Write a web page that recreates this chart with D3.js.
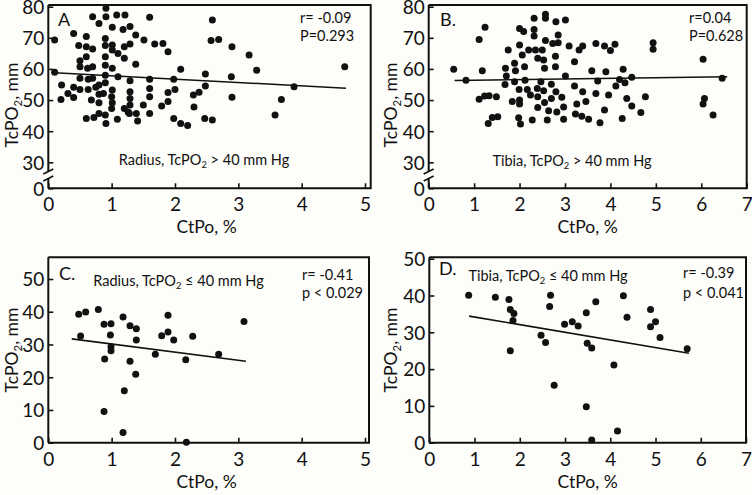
<!DOCTYPE html>
<html>
<head>
<meta charset="utf-8">
<script src="https://cdn.jsdelivr.net/npm/d3@7"></script>
<style>
  html, body { margin: 0; padding: 0; background: #fdfdf9; }
  svg { display: block; font-family: Lato, "Open Sans", sans-serif; }
</style>
</head>
<body>
<svg id="chart" width="752" height="495"></svg>
<script>
// ---------------- DATA ----------------
// Panel A: Radius, TcPO2 > 40 mm Hg  [CtPo %, TcPO2 mm]
const radiusHigh = [
  [0.1,69.3],[0.1,58.9],[0.21,54.8],[0.2,50.2],[0.31,52.1],[0.4,71.4],[0.4,54.1],[0.4,50.8],
  [0.48,67.5],[0.5,62.6],[0.5,60.7],[0.5,57],[0.5,53.4],[0.6,70.4],[0.6,67.1],[0.6,63.9],
  [0.62,60.2],[0.63,56.7],[0.63,53.4],[0.6,44.1],[0.7,76.8],[0.7,66.4],[0.7,60.7],[0.7,57],
  [0.68,50],[0.72,44.4],[0.75,54.1],[0.8,74.6],[0.8,54.8],[0.8,51.9],[0.8,49.1],[0.8,45.7],
  [0.87,52.1],[0.91,79.5],[0.91,76.8],[0.9,69.8],[0.9,67.5],[0.9,63.9],[0.9,61.2],[0.9,58],
  [0.9,55.6],[0.9,45.2],[0.91,42.5],[1.01,73.4],[1.01,67.7],[1.01,66.1],[1.01,60.2],[1.01,53.2],
  [1.0,51.1],[1.01,49.1],[1.0,47.3],[1.08,77.3],[1.1,65],[1.1,57.5],[1.09,43.8],[1.18,72.7],
  [1.2,67.1],[1.2,63.4],[1.2,47.3],[1.21,77.3],[1.26,46.2],[1.29,73.6],[1.29,68],[1.29,56.2],
  [1.29,52.7],[1.29,50.5],[1.29,48.4],[1.28,45.7],[1.38,70.9],[1.38,61.5],[1.39,45.7],[1.41,43.3],
  [1.5,48.4],[1.51,69.3],[1.6,76.6],[1.6,56.7],[1.6,53.7],[1.6,51.1],[1.6,45.7],[1.68,68],
  [1.81,68.2],[1.79,48.1],[1.89,65.5],[1.89,52.4],[1.89,49.5],[1.98,56.7],[1.98,44.1],[2.0,53.4],
  [2.09,59.9],[2.09,42.5],[2.2,41.8],[2.29,51.6],[2.3,47.8],[2.38,52.5],[2.47,44.1],[2.48,58.4],
  [2.48,54.5],[2.59,75.7],[2.57,69.1],[2.59,43.6],[2.69,69.5],[2.89,57.5],[2.9,67.1],[2.9,50.9],
  [3.17,64.5],[3.29,59.6],[3.58,45.2],[3.68,50.2],[3.88,54.3],[4.68,60.7]
];
// Panel B: Tibia, TcPO2 > 40 mm Hg
const tibiaHigh = [
  [0.55,59.9],[0.82,56.4],[1.11,69.5],[1.24,73.4],[1.18,59.4],[1.11,50.3],[1.23,51.3],[1.33,51.4],
  [1.49,51.1],[1.31,42.5],[1.4,44.4],[1.52,44.6],[1.75,66.1],[1.69,60.2],[1.71,57.7],[1.68,55],
  [1.89,61.8],[1.91,59.4],[1.89,55.9],[1.84,49.5],[2.0,73],[2.0,67.7],[1.99,53.4],[2.0,50],
  [2.0,48.7],[1.98,44.3],[2.02,42.3],[2.09,72],[2.06,64.5],[2.11,60.7],[2.12,56.4],[2.17,53.4],
  [2.2,66.1],[2.24,51.6],[2.28,43.6],[2.32,76.3],[2.32,72.7],[2.32,70.6],[2.35,66.1],[2.4,63.4],
  [2.39,53.7],[2.4,51.1],[2.4,47.6],[2.47,55.9],[2.5,66.1],[2.53,62.9],[2.53,53],[2.55,49.2],
  [2.57,77.6],[2.57,76.3],[2.57,69.1],[2.55,60.2],[2.61,43.6],[2.64,46.6],[2.7,50.5],[2.7,55.1],
  [2.73,68.2],[2.79,64.1],[2.79,60.7],[2.8,52.7],[2.82,46.2],[2.8,75.2],[2.85,70.9],[2.85,68.4],
  [2.93,50.9],[2.97,47.8],[2.97,43.8],[3.01,75.7],[3.01,57.7],[3.09,67.4],[3.21,62.3],[3.21,54.5],
  [3.23,45.5],[3.26,48.7],[3.31,66.1],[3.37,44.8],[3.39,67.4],[3.39,52.7],[3.46,49.5],[3.52,43.8],
  [3.59,59.4],[3.68,68.2],[3.68,52.1],[3.72,56.1],[3.77,42.7],[3.87,46.8],[3.87,67.4],[3.9,59.1],
  [3.96,51.6],[4.0,65.9],[4.1,67.9],[4.12,54.5],[4.2,56.6],[4.28,59.9],[4.26,44.1],[4.32,55.6],
  [4.36,50.5],[4.47,48.1],[4.47,57.3],[4.67,46],[4.77,51.1],[4.94,68.4],[4.94,66.3],[6.04,63.1],
  [6.07,50.5],[6.04,48.7],[6.26,45.2],[6.46,57]
];
// Panel C: Radius, TcPO2 <= 40 mm Hg
const radiusLow = [
  [0.48,39.2],[0.59,39.9],[0.51,32.6],[0.79,40.7],[0.88,36.2],[0.99,36.3],[0.98,32.9],[0.99,29.3],
  [0.99,28.1],[0.89,25.6],[0.88,9.5],[1.18,38.4],[1.29,35.7],[1.39,34.8],[1.39,31.4],[1.29,24.9],
  [1.38,20.9],[1.2,15.9],[1.18,3.1],[1.69,27],[1.79,32.7],[1.89,38.9],[1.89,33.8],[1.98,31.4],
  [2.28,32.5],[2.17,25.3],[2.18,0.1],[2.69,27],[3.09,37]
];
// Panel D: Tibia, TcPO2 <= 40 mm Hg
const tibiaLow = [
  [0.87,40.1],[1.46,39.5],[1.76,38.9],[1.79,36.2],[1.87,35.1],[1.85,33.2],[1.79,25],[2.47,29.2],
  [2.57,27.2],[2.68,40.1],[2.66,37],[2.76,15.6],[2.99,32.2],[3.16,32.9],[3.29,31.7],[3.47,35.3],
  [3.49,27],[3.59,25.7],[3.68,38.3],[3.47,9.8],[3.59,0.7],[4.08,21.1],[4.16,3.2],[4.29,39.9],
  [4.37,34.1],[4.89,36.2],[4.89,31.5],[5.0,32.9],[5.1,28.6],[5.7,25.5]
];
// Regression lines: [x, y] endpoints
const radiusHighFit = [[0.1,58.8],[4.7,53.8]];
const tibiaHighFit  = [[0.57,56.3],[6.57,57.5]];
const radiusLowFit  = [[0.37,31.7],[3.12,24.9]];
const tibiaLowFit   = [[0.88,34.4],[5.74,24.3]];

// Tick values
const radiusXTicks = [0,1,2,3,4,5];
const tibiaXTicks  = [0,1,2,3,4,5,6,7];
const highYTicks   = [0,30,40,50,60,70,80];
const lowYTicks    = [0,10,20,30,40,50];

// Labels
const panelLetters = ["A", "B.", "C.", "D."];
const statsR = ["r= -0.09", "r=0.04", "r= -0.41", "r= -0.39"];
const statsP = ["P=0.293", "P=0.628", "p < 0.029", "p < 0.041"];
const subsetSite = ["Radius", "Tibia", "Radius", "Tibia"];
const subsetCond = ["> 40 mm Hg", "> 40 mm Hg", "\u2264 40 mm Hg", "\u2264 40 mm Hg"];
const xTitle = "CtPo, %";

// ---------------- LAYOUT ----------------
const svg = d3.select("#chart");
const FONT_TICK = 19, FONT_TITLE = 17.5, FONT_NOTE = 14.5, FONT_STAT = 14.5, FONT_LETTER = 18;

const panels = [
  { data: radiusHigh, fit: radiusHighFit, xt: radiusXTicks, yt: highYTicks, brk: true,
    left: 48.3, right: 370.7, top: 5, bottom: 188.3, xMax: 5, xMaxPx: 365,
    yDom: [0, 30, 80], yRng: [188.3, 162.3, 6.7],
    letter: [58, 26], stat: [300, 23, 41], note: [204, 165], xTitleY: 233, yTitleX: 17.5, yTitleY: 105 },
  { data: tibiaHigh, fit: tibiaHighFit, xt: tibiaXTicks, yt: highYTicks, brk: true,
    left: 428.7, right: 746.7, top: 5, bottom: 188.3, xMax: 7, xMaxPx: 746.7,
    yDom: [0, 30, 80], yRng: [188.3, 162.3, 6.7],
    letter: [440, 26], stat: [689, 23, 41], note: [572, 166], xTitleY: 233, yTitleX: 396.5, yTitleY: 105 },
  { data: radiusLow, fit: radiusLowFit, xt: radiusXTicks, yt: lowYTicks, brk: false,
    left: 48.3, right: 369, top: 257.3, bottom: 442.7, xMax: 5, xMaxPx: 365,
    yDom: [0, 50], yRng: [442.7, 279],
    letter: [59, 280], stat: [302, 279.5, 297.5], note: [178.5, 286], xTitleY: 488, yTitleX: 17.5, yTitleY: 350 },
  { data: tibiaLow, fit: tibiaLowFit, xt: tibiaXTicks, yt: lowYTicks, brk: false,
    left: 429.3, right: 746, top: 257.3, bottom: 442.7, xMax: 7, xMaxPx: 746,
    yDom: [0, 50], yRng: [442.7, 258.7],
    letter: [439, 275], stat: [683, 278, 298], note: [548, 281], xTitleY: 488, yTitleX: 396.5, yTitleY: 350 }
];

const ink = "#111";

panels.forEach((p, i) => {
  const g = svg.append("g");
  const x = d3.scaleLinear().domain([0, p.xMax]).range([p.left, p.xMaxPx]);
  const y = d3.scaleLinear().domain(p.yDom).range(p.yRng);

  // frame: top, right, bottom
  g.append("path")
    .attr("d", `M${p.left},${p.top}H${p.right}V${p.bottom}H${p.left}`)
    .attr("fill", "none").attr("stroke", ink).attr("stroke-width", 2);

  // left axis (with break for A/B)
  if (p.brk) {
    g.append("line").attr("x1", p.left).attr("x2", p.left).attr("y1", p.top).attr("y2", 171)
      .attr("stroke", ink).attr("stroke-width", 2);
    g.append("line").attr("x1", p.left).attr("x2", p.left).attr("y1", 178.5).attr("y2", p.bottom)
      .attr("stroke", ink).attr("stroke-width", 2);
    [[171.5], [178.5]].forEach(([cy]) => {
      g.append("line").attr("x1", p.left - 5).attr("y1", cy + 2.5)
        .attr("x2", p.left + 5).attr("y2", cy - 2.5)
        .attr("stroke", ink).attr("stroke-width", 1.6);
    });
  } else {
    g.append("line").attr("x1", p.left).attr("x2", p.left).attr("y1", p.top).attr("y2", p.bottom)
      .attr("stroke", ink).attr("stroke-width", 2);
  }

  // x axis ticks (inward)
  const xAxis = d3.axisBottom(x).tickValues(p.xt).tickFormat(d3.format("d"))
    .tickSizeInner(-5).tickSizeOuter(0).tickPadding(9.5);
  const xg = g.append("g").attr("transform", `translate(0,${p.bottom})`).call(xAxis);
  xg.select(".domain").remove();
  xg.selectAll(".tick line").attr("stroke", ink).attr("stroke-width", 1.6);
  xg.selectAll(".tick text").attr("font-size", FONT_TICK).attr("fill", ink)
    .attr("font-family", "Lato, sans-serif");

  // y axis ticks (inward)
  const yAxis = d3.axisLeft(y).tickValues(p.yt).tickFormat(d3.format("d"))
    .tickSizeInner(-5).tickSizeOuter(0).tickPadding(4);
  const yg = g.append("g").attr("transform", `translate(${p.left},0)`).call(yAxis);
  yg.select(".domain").remove();
  yg.selectAll(".tick line").attr("stroke", ink).attr("stroke-width", 1.6);
  yg.selectAll(".tick text").attr("font-size", FONT_TICK).attr("fill", ink)
    .attr("dy", "0.36em").attr("font-family", "Lato, sans-serif");

  // regression line
  g.append("path")
    .attr("d", d3.line().x(d => x(d[0])).y(d => y(d[1]))(p.fit))
    .attr("fill", "none").attr("stroke", ink).attr("stroke-width", 1.6);

  // points
  g.selectAll("circle.pt").data(p.data).join("circle")
    .attr("class", "pt")
    .attr("cx", d => x(d[0])).attr("cy", d => y(d[1])).attr("r", 3.5)
    .attr("fill", ink);

  // panel letter
  g.append("text").attr("x", p.letter[0]).attr("y", p.letter[1])
    .attr("font-size", FONT_LETTER).attr("fill", ink).text(panelLetters[i]);

  // stats
  g.append("text").attr("x", p.stat[0]).attr("y", p.stat[1])
    .attr("font-size", FONT_STAT).attr("fill", ink).text(statsR[i]);
  g.append("text").attr("x", p.stat[0]).attr("y", p.stat[2])
    .attr("font-size", FONT_STAT).attr("fill", ink).text(statsP[i]);

  // subset note with subscript
  const note = g.append("text").attr("x", p.note[0]).attr("y", p.note[1])
    .attr("text-anchor", "middle").attr("font-size", FONT_NOTE).attr("fill", ink);
  note.append("tspan").text(subsetSite[i] + ", TcPO");
  note.append("tspan").attr("font-size", FONT_NOTE * 0.65).attr("dy", 3).text("2");
  note.append("tspan").attr("dy", -3).text(" " + subsetCond[i]);

  // x title
  g.append("text").attr("x", (p.left + p.xMaxPx) / 2).attr("y", p.xTitleY)
    .attr("text-anchor", "middle").attr("font-size", FONT_TITLE).attr("fill", ink).text(xTitle);

  // y title
  const yt = g.append("text")
    .attr("transform", `translate(${p.yTitleX},${p.yTitleY}) rotate(-90)`)
    .attr("text-anchor", "middle").attr("font-size", FONT_TITLE).attr("fill", ink);
  yt.append("tspan").text("TcPO");
  yt.append("tspan").attr("font-size", FONT_TITLE * 0.65).attr("dy", 4).text("2");
  yt.append("tspan").attr("dy", -4).text(", mm");
});
</script>
</body>
</html>
